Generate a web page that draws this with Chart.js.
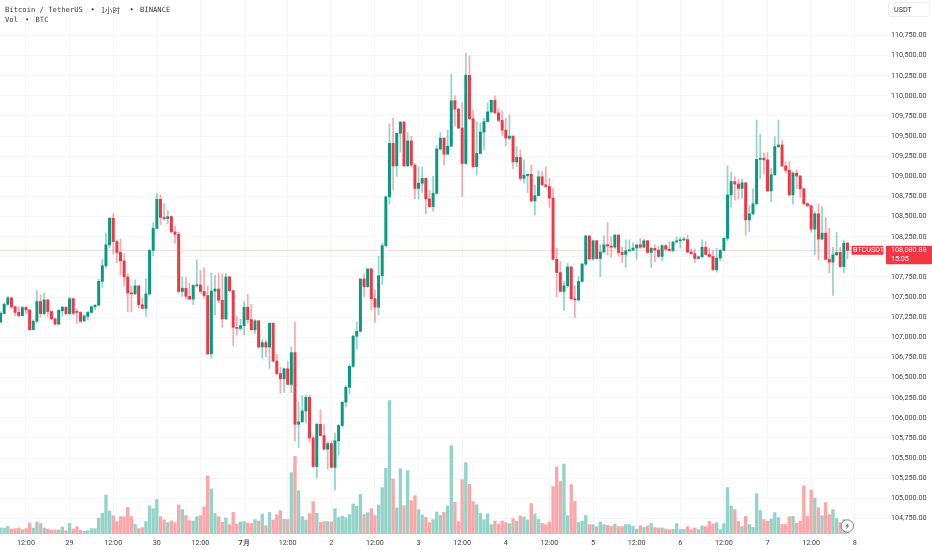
<!DOCTYPE html>
<html>
<head>
<meta charset="utf-8">
<title>BTCUSDT</title>
<script src="https://cdn.jsdelivr.net/npm/chart.js@4"></script>
<style>
    html, body { margin: 0; padding: 0; background: #fff; width: 932px; height: 550px; overflow: hidden; }
    body { position: relative; font-family: Roboto, sans-serif; color: #333; }
    canvas { position: absolute; left: 0; top: 0; }
    .legend { position: absolute; font-family: "DejaVu Sans Mono", monospace; font-size: 7.2px; line-height: 10px; white-space: pre; color: #3a3a3a; }
    #unitBox { position: absolute; left: 888px; top: 2px; width: 42px; height: 15px; box-sizing: border-box; border: 1px solid #eceef1; border-radius: 3px; font-size: 7.2px; line-height: 13px; padding-left: 5px; }
</style>
</head>
<body>
<canvas id="btcChart" width="932" height="550"></canvas>
<div class="legend" style="left:5px;top:5px">Bitcoin / TetherUS</div>
<div class="legend" style="left:90.5px;top:5px">•</div>
<div class="legend" style="left:101px;top:5px;font-family:'Noto Sans CJK SC',monospace;font-size:7.4px">1小时</div>
<div class="legend" style="left:129.5px;top:5px">•</div>
<div class="legend" style="left:140px;top:5px">BINANCE</div>
<div class="legend" style="left:5px;top:15px">Vol</div>
<div class="legend" style="left:25px;top:15px">•</div>
<div class="legend" style="left:35.5px;top:15px">BTC</div>
<div id="unitBox">USDT</div>
<script>
// --- Data ---
const FIRST_HOUR = 5; // first visible candle, 05:00 on the 28th; one candle per hour
const LAST_PRICE = 108080.88;
const COUNTDOWN = "15:05";
const SYMBOL = "BTCUSDT";

const xTickLabels = ["12:00", "29", "12:00", "30", "12:00", "7月", "12:00", "2", "12:00", "3", "12:00", "4", "12:00", "5", "12:00", "6", "12:00", "7", "12:00", "8"];

const priceTicks = [104750, 105000, 105250, 105500, 105750, 106000, 106250, 106500, 106750, 107000, 107250, 107500, 107750, 108000, 108250, 108500, 108750, 109000, 109250, 109500, 109750, 110000, 110250, 110500, 110750];

const opens = [
    107190,107295,107410,107490,107380,107310,107270,107370,107340,107095,
    107200,107445,107295,107465,107320,107230,107165,107330,107375,107295,
    107480,107320,107310,107205,107260,107310,107380,107400,107695,107890,
    108150,108480,108190,108055,107950,107750,107550,107540,107640,107405,
    107360,107540,108080,108355,108715,108490,108475,108500,108310,108280,
    107570,107610,107510,107475,107640,107650,107570,107520,106795,107575,
    107600,107460,107230,107750,107580,107125,107110,107145,107375,107220,
    107095,107205,106880,106935,106880,107175,106705,106550,106485,106610,
    106415,106810,105920,105950,106085,106255,105750,105395,105920,105780,
    105610,105680,105385,105715,105905,106195,106380,106640,107015,107075,
    107725,107630,107850,107480,107375,107765,108140,108745,109410,109130,
    109535,109675,109130,109440,109140,108850,108915,108975,108720,108625,
    108790,109340,109475,109275,109375,109940,109835,109600,109160,110255,
    109715,109120,109285,109550,109680,109800,109945,109790,109695,109575,
    109475,109500,109180,109235,108975,109010,109025,108695,108760,108995,
    108895,108875,108730,107970,107805,107570,107640,107875,107480,107465,
    107695,107910,108260,107975,108200,107980,108060,108150,108135,108120,
    108270,108055,108030,108075,108085,108110,108150,108120,108200,108055,
    108105,108085,108005,108140,108095,108080,108185,108200,108210,108215,
    108060,108040,107980,108000,108120,108030,108005,107840,107985,108080,
    108230,108770,108935,108905,108850,108920,108460,108535,108660,109210,
    109225,109205,108820,109020,109370,109390,109130,109075,108770,109040,
    109005,108845,108660,108635,108345,108535,108220,108295,107970,107935,
    108025,108055,107880,108170
];

const highs = [
    107320,107430,107510,107500,107385,107380,107385,107385,107350,107220,
    107580,107530,107550,107470,107335,107240,107345,107385,107380,107500,
    107485,107350,107320,107280,107320,107395,107405,107725,107970,108295,
    108490,108535,108210,108220,108040,107790,107640,107715,107645,107490,
    107730,108090,108425,108790,108770,108665,108575,108510,108375,108305,
    107750,107750,107675,107655,107965,107830,107860,107640,107800,107775,
    107800,107790,107795,107760,107585,107260,107225,107445,107535,107410,
    107220,107210,106970,106970,107180,107180,106790,106630,106620,106700,
    106880,107185,106195,106280,106285,106285,105770,105930,106100,105915,
    105705,105705,105810,105915,106200,106400,106660,107030,107190,107730,
    107790,107855,107855,107590,108005,108170,108760,109650,109720,109540,
    109680,109680,109545,109495,109160,109115,109115,108985,108825,109000,
    109380,109545,109480,109575,110270,110000,109845,109915,110530,110495,
    109825,109680,109665,109720,109910,109950,110000,109845,109815,109720,
    109765,109505,109370,109330,109205,109030,109140,108895,109070,109060,
    109115,108975,108850,108105,107940,107700,107920,107880,107640,107755,
    107920,108270,108265,108210,108205,108150,108260,108425,108250,108285,
    108275,108120,108210,108210,108175,108150,108230,108220,108205,108120,
    108150,108130,108150,108150,108190,108190,108250,108245,108245,108270,
    108095,108095,108010,108210,108190,108105,108085,108105,108095,108240,
    109130,109050,108995,108965,108965,108925,108635,108845,109700,109525,
    109290,109295,109100,109495,109700,109445,109185,109185,109060,109080,
    109010,108850,108675,108645,108560,108655,108625,108490,108355,108120,
    108305,108120,108210,108180
];

const lows = [
    107180,107290,107390,107360,107270,107260,107265,107295,107085,107090,
    107185,107250,107280,107260,107220,107155,107155,107260,107280,107280,
    107280,107170,107185,107200,107220,107300,107340,107390,107625,107860,
    108110,108040,107930,107775,107640,107320,107320,107530,107365,107355,
    107260,107530,108015,108345,108400,108460,108410,108305,108170,107550,
    107510,107475,107470,107405,107630,107550,107485,106785,106740,107280,
    107430,107125,107220,107570,106900,107030,107085,107030,107175,107090,
    107050,106865,106740,106760,106615,106695,106535,106305,106315,106410,
    106315,105715,105630,105945,105935,105700,105390,105250,105770,105600,
    105365,105380,105105,105535,105890,106135,106295,106625,106855,107065,
    107505,107620,107340,107185,107280,107660,108120,108655,108830,109000,
    109300,109125,109120,109115,108720,108715,108800,108535,108615,108570,
    108780,109325,109140,109270,109365,109625,109590,108750,109140,109705,
    109110,109015,109275,109330,109675,109785,109775,109680,109510,109380,
    109450,109100,109120,108945,108920,108800,108685,108520,108755,108885,
    108860,108615,107960,107505,107565,107335,107620,107475,107245,107445,
    107685,107895,107960,107960,107970,107755,108050,108025,107995,108100,
    108005,107930,107870,108065,108075,107970,108105,108115,108045,107865,
    107940,107995,107955,108075,108070,108055,108180,108110,108200,108050,
    108030,107930,107970,107995,108025,107995,107830,107810,107955,108070,
    108200,108615,108705,108715,108730,108270,108315,108525,108650,108975,
    109030,108810,108685,109010,109355,109120,109045,108755,108655,108850,
    108740,108645,108625,108305,108025,107960,108210,107960,107805,107520,
    108015,107870,107805,107975
];

const closes = [
    107300,107410,107490,107380,107310,107270,107370,107340,107095,107200,
    107445,107295,107465,107320,107230,107165,107335,107375,107295,107480,
    107300,107310,107200,107265,107310,107380,107400,107695,107890,108150,
    108480,108190,108055,107950,107750,107550,107540,107640,107405,107360,
    107540,108080,108355,108715,108490,108475,108500,108310,108280,107570,
    107610,107510,107475,107645,107650,107570,107520,106795,107575,107600,
    107460,107230,107750,107580,107125,107110,107145,107375,107220,107095,
    107205,106880,106935,106880,107175,106705,106550,106485,106610,106415,
    106810,105920,105950,106085,106255,105750,105395,105920,105780,105610,
    105680,105385,105715,105905,106195,106380,106640,107015,107075,107725,
    107630,107850,107480,107375,107765,108140,108745,109410,109130,109535,
    109675,109130,109440,109140,108850,108915,108975,108720,108625,108790,
    109340,109475,109275,109375,109940,109835,109600,109160,110255,109715,
    109120,109285,109550,109680,109800,109945,109790,109695,109575,109475,
    109500,109180,109235,108975,109015,109025,108695,108760,108995,108895,
    108875,108730,107970,107805,107570,107640,107875,107480,107465,107695,
    107910,108260,107975,108200,107980,108060,108150,108135,108120,108270,
    108055,108030,108075,108085,108110,108150,108120,108200,108055,108105,
    108085,108005,108140,108095,108080,108185,108200,108210,108215,108060,
    108040,107980,108000,108120,108030,108005,107840,107985,108080,108230,
    108770,108935,108905,108850,108920,108460,108535,108660,109210,109225,
    109205,108820,109020,109370,109390,109130,109075,108770,109040,109005,
    108845,108660,108635,108345,108535,108220,108295,107970,107935,108025,
    108055,107880,108170,108080.88
];

const volumes = [
    240,240,305,200,215,240,175,215,440,240,
    480,415,240,200,145,160,160,280,135,425,
    200,295,145,105,135,215,215,625,825,1560,
    920,735,495,695,695,1065,695,385,215,255,
    495,1120,1015,1375,695,560,455,520,455,1160,
    975,735,535,520,695,735,1080,2320,1800,815,
    695,465,640,375,865,400,480,495,440,415,
    575,520,800,335,865,560,775,935,585,575,
    2455,3105,1735,695,560,815,1295,840,465,495,
    495,480,1015,665,720,655,775,1200,1105,1585,
    775,855,1015,735,1160,1855,2625,5335,2200,1040,
    2615,1135,2535,1335,1535,975,760,665,455,575,
    880,745,865,1120,3535,1265,495,2175,2855,1985,
    1295,1175,825,575,815,375,520,385,520,455,
    415,615,520,720,680,560,1215,800,585,425,
    375,480,1895,2680,2095,2800,735,1975,1305,455,
    520,735,375,375,295,480,375,345,305,385,
    305,295,375,375,305,185,335,265,320,425,
    255,240,240,200,175,185,415,185,185,295,
    175,240,175,320,295,495,400,455,175,415,
    1855,1120,975,495,305,705,375,265,1615,935,
    575,505,600,855,655,385,385,695,705,425,
    520,1920,705,1760,1440,1055,735,1255,775,975,
    625,455,575,135
];

// --- Styles ---
const UP = "#089981";
const DOWN = "#f23645";
const UP_WICK = "rgba(8, 153, 129, 0.42)";
const DOWN_WICK = "rgba(242, 54, 69, 0.42)";
const UP_VOL = "#93d3c8";
const DOWN_VOL = "#fba6a8";
const GRID = "#f6f6f7";
const AXIS_TEXT = "#3f3f3f";
const AXIS_FONT = "Roboto, sans-serif";

const isUp = opens.map((o, i) => closes[i] >= o);
const hourOf = (i) => FIRST_HOUR + i;

// draw order follows dataset order, volume goes behind the candles
const volumeData = volumes.map((v, i) => ({ x: hourOf(i), y: v }));
const wickData = highs.map((h, i) => ({ x: hourOf(i), y: [lows[i], h] }));
const bodyData = opens.map((o, i) => ({ x: hourOf(i), y: [o, closes[i]] }));

function noScalePadding(scale) {
    scale.paddingTop = 0;
    scale.paddingBottom = 0;
    scale.paddingLeft = 0;
    scale.paddingRight = 0;
}

// Last price line and the red tags on the axis
const lastPricePlugin = {
    id: "lastPrice",
    beforeDatasetsDraw(chart) {
        const { ctx, chartArea, scales } = chart;
        const y = scales.y.getPixelForValue(LAST_PRICE);
        ctx.save();
        ctx.strokeStyle = "rgba(242, 54, 69, 0.16)";
        ctx.lineWidth = 1.4;
        ctx.beginPath();
        ctx.moveTo(chartArea.left, y);
        ctx.lineTo(chartArea.right, y);
        ctx.stroke();
        ctx.restore();
    },
    afterDraw(chart) {
        const { ctx, scales } = chart;
        const y = scales.y.getPixelForValue(LAST_PRICE);
        ctx.save();
        ctx.fillStyle = DOWN;
        ctx.beginPath();
        ctx.roundRect(851.5, y - 4.5, 32, 9, 1);
        ctx.fill();
        ctx.beginPath();
        ctx.roundRect(886, y - 4.5, 46, 18.5, 1);
        ctx.fill();
        ctx.fillStyle = "#fff";
        ctx.font = "7.2px " + AXIS_FONT;
        ctx.textBaseline = "middle";
        ctx.fillText(SYMBOL, 853, y + 0.3);
        ctx.fillText(LAST_PRICE.toLocaleString("en-US", { minimumFractionDigits: 2 }), 891, y + 0.3);
        ctx.fillText(COUNTDOWN, 891, y + 9);

        // small round badge over the last volume bars
        ctx.beginPath();
        ctx.arc(847.3, 526, 6.2, 0, Math.PI * 2);
        ctx.fillStyle = "#fff";
        ctx.fill();
        ctx.strokeStyle = "#666";
        ctx.lineWidth = 0.8;
        ctx.stroke();
        ctx.fillStyle = "#777";
        ctx.beginPath();
        ctx.moveTo(848.6, 522.4);
        ctx.lineTo(845.2, 526.6);
        ctx.lineTo(847, 526.6);
        ctx.lineTo(846, 529.6);
        ctx.lineTo(849.4, 525.4);
        ctx.lineTo(847.6, 525.4);
        ctx.closePath();
        ctx.fill();
        ctx.restore();
    }
};

Chart.defaults.animation = false;

new Chart(document.getElementById("btcChart"), {
    type: "bar",
    data: {
        datasets: [
            {
                label: "Vol",
                data: volumeData,
                yAxisID: "yVol",
                order: 3,
                grouped: false,
                barThickness: 2.7,
                backgroundColor: isUp.map(up => up ? UP_VOL : DOWN_VOL)
            },
            {
                label: "Wick",
                data: wickData,
                yAxisID: "y",
                order: 2,
                grouped: false,
                barThickness: 1.1,
                backgroundColor: isUp.map(up => up ? UP_WICK : DOWN_WICK)
            },
            {
                label: "Body",
                data: bodyData,
                yAxisID: "y",
                order: 1,
                grouped: false,
                barThickness: 2.3,
                minBarLength: 1,
                backgroundColor: isUp.map(up => up ? UP : DOWN)
            }
        ]
    },
    options: {
        responsive: false,
        devicePixelRatio: 1,
        layout: { padding: 0 },
        plugins: {
            legend: { display: false },
            tooltip: { enabled: false }
        },
        scales: {
            x: {
                type: "linear",
                offset: false,
                min: 4.85,
                max: 249.15,
                border: { display: false },
                grid: { color: GRID, offset: false, drawTicks: false, lineWidth: 1 },
                ticks: {
                    stepSize: 12,
                    autoSkip: false,
                    includeBounds: false,
                    maxRotation: 0,
                    padding: 5,
                    color: AXIS_TEXT,
                    font: (ctx) => ({
                        family: AXIS_FONT,
                        size: 7.2,
                        weight: ctx.tick && ctx.tick.value === 72 ? "bold" : "normal"
                    }),
                    callback: (value) => xTickLabels[value / 12 - 1]
                },
                afterFit(scale) {
                    scale.height = 16;
                    noScalePadding(scale);
                }
            },
            y: {
                position: "right",
                min: 104557,
                max: 111191,
                border: { display: false },
                grid: { color: GRID, drawTicks: false, lineWidth: 1 },
                afterBuildTicks(scale) {
                    scale.ticks = priceTicks.map(v => ({ value: v }));
                },
                ticks: {
                    autoSkip: false,
                    padding: 3,
                    color: AXIS_TEXT,
                    font: { family: AXIS_FONT, size: 7.2 },
                    callback: (value) => value.toLocaleString("en-US", { minimumFractionDigits: 2 })
                },
                afterFit(scale) {
                    scale.width = 44;
                    noScalePadding(scale);
                }
            },
            yVol: {
                display: false,
                min: 0,
                max: 21360
            }
        }
    },
    plugins: [lastPricePlugin]
});
</script>
</body>
</html>
